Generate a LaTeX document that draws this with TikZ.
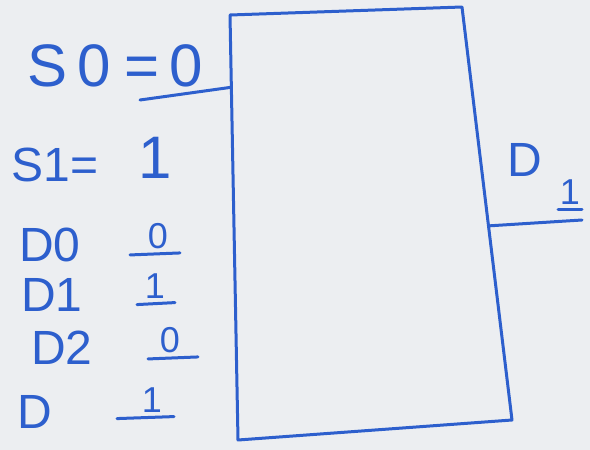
\documentclass[tikz,border=0pt]{standalone}
\usepackage{fontspec}
\setmainfont{Liberation Sans}
\usetikzlibrary{calc}
\definecolor{pen}{RGB}{45,95,205}
\definecolor{paper}{RGB}{236,238,241}
\tikzset{
  ink/.style={pen,line width=3pt,line cap=round,line join=round},
  lbl/.style={text=pen,font=\fontsize{48}{48}\selectfont,inner sep=0pt},
  big/.style={lbl,font=\fontsize{60}{60}\selectfont},
  bit/.style={lbl,font=\fontsize{36}{36}\selectfont}
}
\begin{document}
\begin{tikzpicture}[x=1pt,y=-1pt]
  \fill[paper] (0,0) rectangle (590,450);
  \useasboundingbox (0,0) rectangle (590,450);
  % the block
  \coordinate (tl) at (230,15);
  \coordinate (tr) at (462,7);
  \coordinate (br) at (512,420);
  \coordinate (bl) at (238,440);
  \draw[ink] (tl) -- (tr) -- (br) -- (bl) -- cycle;
  % select lines
  \node[big] (s0) at (115,66) {S\kern10pt0\kern14pt=\kern10pt0};
  \coordinate (s0in) at ($(tl)!0.17!(bl)$);
  \coordinate (s0end) at (140,100);
  \draw[ink] (s0end) -- (s0in);
  \node[lbl] (s1) at (55,165) {S1=};
  \node[big] (s1v) at (155,158) {1};
  % data inputs
  \node[lbl] (d0) at (50,245) {D0};
  \node[lbl] (d1) at (52,295) {D1};
  \node[lbl] (d2) at (62,348) {D2};
  \node[lbl] (d3) at (35,412) {D};
  \node[bit] (d0v) at (158,236) {0};
  \node[bit] (d1v) at (155,286) {1};
  \node[bit] (d2v) at (170,340) {0};
  \node[bit] (d3v) at (152,400) {1};
  \foreach \v/\l/\r in {d0v/-28/22,d1v/-18/20,d2v/-22/28,d3v/-35/22}{
    \draw[ink] ($(\v.south)+(\l,6)$) -- ($(\v.south)+(\r,4)$);
  }
  % output
  \coordinate (yout) at ($(tr)!0.53!(br)$);
  \coordinate (yend) at (582,220);
  \draw[ink] (yout) -- (yend);
  \node[lbl] (y) at (525,160) {D};
  \node[bit] (ysub) at (570,192) {1};
  \draw[ink] ($(ysub.south)+(-12,5)$) -- ($(ysub.south)+(12,5)$);
\end{tikzpicture}
\end{document}
